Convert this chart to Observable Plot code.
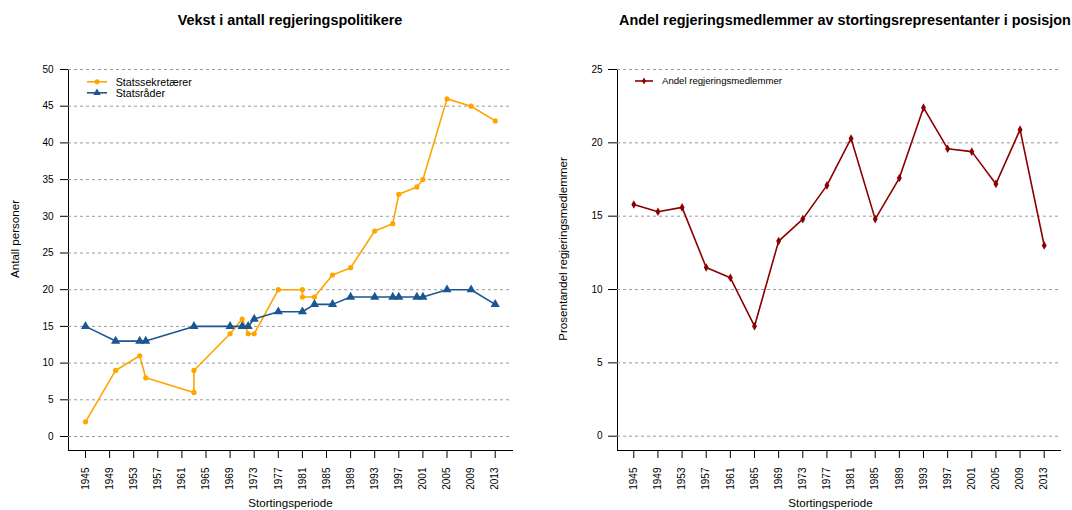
<!DOCTYPE html>
<html><head><meta charset="utf-8">
<script src="https://cdn.jsdelivr.net/npm/d3@7"></script>
<script src="https://cdn.jsdelivr.net/npm/@observablehq/plot@0.6"></script>
<style>
body{margin:0;background:#fff;}
#wrap{position:relative;width:1072px;height:510px;overflow:hidden;font-family:"Liberation Sans",Arial,Helvetica,sans-serif;color:#000;}
.panel{position:absolute;top:0;}
.title{position:absolute;top:11px;font-weight:bold;font-size:14.4px;line-height:18px;white-space:nowrap;transform:translateX(-50%);}
.legend{position:absolute;white-space:nowrap;}
.legend .row{display:flex;align-items:center;}
.legend svg{display:block;flex:none;}
</style></head>
<body><div id="wrap"></div>
<script>
// ---- data ----
const periodTicks = [1945,1949,1953,1957,1961,1965,1969,1973,1977,1981,1985,1989,1993,1997,2001,2005,2009,2013];
const leftYTicks = [0,5,10,15,20,25,30,35,40,45,50];
const rightYTicks = [0,5,10,15,20,25];

const sekYears = [1945,1950,1954,1955,1963,1963,1969,1971,1972,1973,1977,1981,1981,1983,1986,1989,1993,1996,1997,2000,2001,2005,2009,2013];
const sekVals  = [2,9,11,8,6,9,14,16,14,14,20,20,19,19,22,23,28,29,33,34,35,46,45,43];

const raadYears = [1945,1950,1954,1955,1963,1969,1971,1972,1973,1977,1981,1983,1986,1989,1993,1996,1997,2000,2001,2005,2009,2013];
const raadVals  = [15,13,13,13,15,15,15,15,16,17,17,18,18,19,19,19,19,19,19,20,20,18];

const andelYears = [1945,1949,1953,1957,1961,1965,1969,1973,1977,1981,1985,1989,1993,1997,2001,2005,2009,2013];
const andelVals  = [15.8,15.3,15.6,11.5,10.8,7.5,13.3,14.8,17.1,20.3,14.8,17.6,22.4,19.6,19.4,17.2,20.9,13.0];

const seriesNames = ["Statssekretærer","Statsråder"];
const rightName = "Andel regjeringsmedlemmer";
const titles = ["Vekst i antall regjeringspolitikere","Andel regjeringsmedlemmer av stortingsrepresentanter i posisjon"];
const xLabel = "Stortingsperiode";
const yLabels = ["Antall personer","Prosentandel regjeringsmedlemmer"];

const ORANGE = "#FFA500", BLUE = "#1B5694", DARKRED = "#8B0000", GRID = "#9a9a9a";

const sek = sekYears.map((y,i)=>({year:y, value:sekVals[i]}));
const raad = raadYears.map((y,i)=>({year:y, value:raadVals[i]}));
const andel = andelYears.map((y,i)=>({year:y, value:andelVals[i]}));

const style = {fontFamily:'"Liberation Sans",Arial,Helvetica,sans-serif', fontSize:"10px", background:"transparent", color:"#000", overflow:"visible"};
const LABEL_FS = 11.6;

const wrap = document.getElementById("wrap");

// ---- left chart ----
const left = Plot.plot({
  width: 536, height: 510,
  marginLeft: 68, marginRight: 24, marginTop: 69, marginBottom: 60,
  style,
  x: {type:"linear", domain:[1942.18, 2015.87], ticks: periodTicks, tickFormat: d => String(d), tickRotate: -90, tickSize: 8, tickPadding: 9, label: null, line: true},
  y: {domain:[-1.907, 50], ticks: leftYTicks, tickSize: 8, tickPadding: 7, label: null, line: true},
  marks: [
    Plot.ruleY(leftYTicks, {stroke: GRID, strokeDasharray: "3,3", strokeWidth: 1}),
    Plot.line(sek, {x:"year", y:"value", stroke: ORANGE, strokeWidth: 1.6}),
    Plot.dot(sek, {x:"year", y:"value", fill: ORANGE, r: 2.6, symbol:"circle"}),
    Plot.line(raad, {x:"year", y:"value", stroke: BLUE, strokeWidth: 1.6}),
    Plot.dot(raad, {x:"year", y:"value", fill: BLUE, r: 3.4, symbol:"triangle"}),
    Plot.text([yLabels[0]], {text: d => d, frameAnchor:"left", textAnchor:"middle", lineAnchor:"middle", dx:-53, dy:-21, rotate:-90, fontSize:LABEL_FS}),
    Plot.text([xLabel], {text: d => d, frameAnchor:"bottom", textAnchor:"middle", lineAnchor:"middle", dy:53, fontSize:LABEL_FS})
  ]
});
left.classList.add("panel");
left.style.left = "0px";
wrap.appendChild(left);

// ---- right chart ----
const right = Plot.plot({
  width: 536, height: 510,
  marginLeft: 81, marginRight: 12, marginTop: 69, marginBottom: 60,
  style,
  x: {type:"linear", domain:[1942.3, 2015.7], ticks: periodTicks, tickFormat: d => String(d), tickRotate: -90, tickSize: 8, tickPadding: 9, label: null, line: true},
  y: {domain:[-0.975, 25], ticks: rightYTicks, tickSize: 9, tickPadding: 6, label: null, line: true},
  marks: [
    Plot.ruleY(rightYTicks, {stroke: GRID, strokeDasharray: "3,3", strokeWidth: 1}),
    Plot.line(andel, {x:"year", y:"value", stroke: DARKRED, strokeWidth: 1.6}),
    Plot.dot(andel, {x:"year", y:"value", fill: DARKRED, r: 2.6, symbol:"diamond"}),
    Plot.text([yLabels[1]], {text: d => d, frameAnchor:"left", textAnchor:"middle", lineAnchor:"middle", dx:-54, dy:-11, rotate:-90, fontSize:LABEL_FS}),
    Plot.text([xLabel], {text: d => d, frameAnchor:"bottom", textAnchor:"middle", lineAnchor:"middle", dx:-8.5, dy:53, fontSize:LABEL_FS})
  ]
});
right.classList.add("panel");
right.style.left = "536px";
wrap.appendChild(right);

// ---- titles ----
[[titles[0], 290], [titles[1], 845]].forEach(([t, cx]) => {
  const d = document.createElement("div");
  d.className = "title";
  d.style.left = cx + "px";
  d.textContent = t;
  wrap.appendChild(d);
});

// ---- legends ----
function legend(items, {left, top, fontSize, lineH, swatchW, gap}) {
  const box = document.createElement("div");
  box.className = "legend";
  box.style.left = left + "px";
  box.style.top = top + "px";
  box.style.fontSize = fontSize + "px";
  items.forEach(it => {
    const row = document.createElement("div");
    row.className = "row";
    row.style.height = lineH + "px";
    const svg = d3.create("svg").attr("width", swatchW).attr("height", lineH);
    svg.append("line").attr("x1", 0).attr("x2", swatchW).attr("y1", lineH/2).attr("y2", lineH/2)
      .attr("stroke", it.color).attr("stroke-width", 1.6);
    svg.append("path").attr("transform", `translate(${swatchW/2},${lineH/2})`)
      .attr("d", d3.symbol(it.symbol, it.size)()).attr("fill", it.color);
    row.appendChild(svg.node());
    const s = document.createElement("span");
    s.style.marginLeft = gap + "px";
    s.textContent = it.label;
    row.appendChild(s);
    box.appendChild(row);
  });
  wrap.appendChild(box);
}
legend([
  {label: seriesNames[0], color: ORANGE, symbol: d3.symbolCircle, size: 20},
  {label: seriesNames[1], color: BLUE, symbol: d3.symbolTriangle, size: 24}
], {left: 87, top: 75.9, fontSize: 10.7, lineH: 11.6, swatchW: 20, gap: 8.7});
legend([
  {label: rightName, color: DARKRED, symbol: d3.symbolDiamond, size: 14}
], {left: 635, top: 75.7, fontSize: 9.6, lineH: 10, swatchW: 18, gap: 9});
</script></body></html>
